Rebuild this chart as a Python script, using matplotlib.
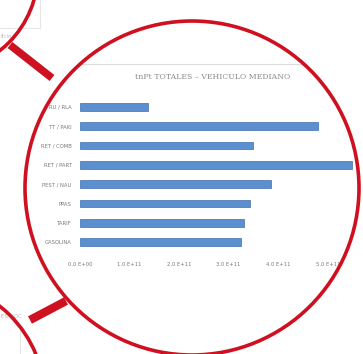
import matplotlib
matplotlib.use('Agg')
import matplotlib.pyplot as plt
from matplotlib.patches import Circle
import numpy as np

# data
categories = ['RU / RLA', 'TT / PAKI', 'RET / COMB', 'RET / PART',
              'PEST / NAU', 'PPAS', 'TARIF', 'GASOLINA']
values = [1.37e11, 4.80e11, 3.49e11, 5.48e11, 3.85e11, 3.43e11, 3.31e11, 3.25e11]
xticks = [0, 1e11, 2e11, 3e11, 4e11, 5e11]
xticklabels = ['0.0 E+00', '1.0 E+11', '2.0 E+11', '3.0 E+11', '4.0 E+11', '5.0 E+11']
title = 'tnPt TOTALES \u2013 VEHICULO MEDIANO'

W, H = 363, 354
red = '#cf1020'

fig = plt.figure(figsize=(W / 100, H / 100), dpi=100)
fig.patch.set_facecolor('white')

# background / decoration axes in pixel coordinates
ax0 = fig.add_axes([0, 0, 1, 1])
ax0.set_xlim(0, W)
ax0.set_ylim(H, 0)
ax0.axis('off')

cx, cy, r = 192, 188, 167
# faint page content behind the lens
ax0.plot([0, 40], [28, 28], color='#e6e6e6', lw=0.8)
ax0.plot([40, 40], [0, 28], color='#e6e6e6', lw=0.8)
ax0.text(1, 36, 'ficio', fontsize=4, color='#bbbbbb', va='center')
ax0.text(1, 316, 'ES NOC', fontsize=4, color='#bbbbbb', va='center')
ax0.plot([20, 20], [330, 354], color='#e6e6e6', lw=0.8)

# bar chart axes, clipped to the lens
clip = Circle((cx, cy), r, transform=ax0.transData)
ax = fig.add_axes([80 / W, 1 - 252 / H, (W - 80) / W, 155 / H], zorder=2)
ax.patch.set_alpha(0)
y = np.arange(len(categories))
bars = ax.barh(y, values, height=0.4, color='#5b8fd0', edgecolor='#3e6fae',
               linewidth=0.5)
for b in bars:
    b.set_clip_path(clip)
ax.set_xlim(0, 5.71e11)
ax.set_ylim(len(categories) - 0.5, -0.5)
ax.set_yticks(y)
ax.set_yticklabels(categories, fontsize=3.8, color='#7a7a7a')
ax.set_xticks(xticks)
ax.set_xticklabels(xticklabels, fontsize=3.8, color='#7a7a7a')
ax.tick_params(length=0, pad=6)
ax.tick_params(axis='x', pad=7)
for s in ax.spines.values():
    s.set_visible(False)
for t in ax.get_xticklabels() + ax.get_yticklabels():
    t.set_clip_path(clip)

# chart title and frame line inside the lens
ax0.text(213, 77, title, fontsize=5.6, color='#8c8c8c', ha='center',
         va='center', family='DejaVu Serif', zorder=2)
line = ax0.plot([45, 360], [64, 64], color='#dddddd', lw=0.8)[0]
line.set_clip_path(Circle((cx, cy), r, transform=ax0.transData))

# red rings and connectors on top
ax2 = fig.add_axes([0, 0, 1, 1], zorder=3)
ax2.set_xlim(0, W)
ax2.set_ylim(H, 0)
ax2.axis('off')
ax2.patch.set_alpha(0)
ax2.add_patch(Circle((cx, cy), r, fill=False, ec=red, lw=2.6))
ax2.add_patch(Circle((-62, -28), 100, fill=False, ec=red, lw=2.6))
ax2.add_patch(Circle((-75, 400), 120, fill=False, ec=red, lw=2.6))
ax2.plot([10, 52], [45, 78], color=red, lw=5.5, solid_capstyle='butt')
ax2.plot([30, 66], [320, 301], color=red, lw=6, solid_capstyle='butt')

fig.savefig('out.png', dpi=100)
